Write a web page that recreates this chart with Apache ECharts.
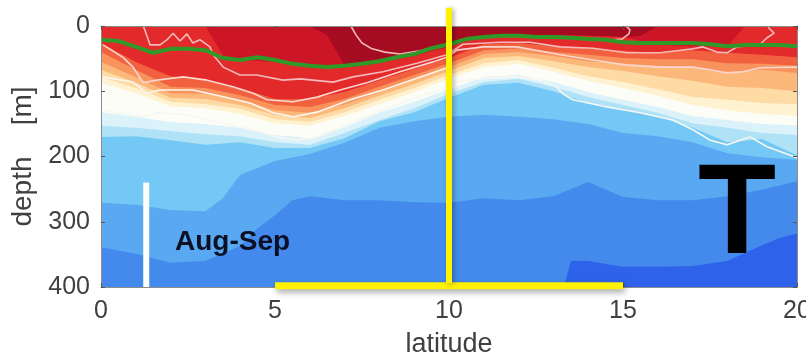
<!DOCTYPE html>
<html><head><meta charset="utf-8">
<script src="https://cdn.jsdelivr.net/npm/echarts@6/dist/echarts.min.js"></script>
<style>html,body{margin:0;padding:0;background:#fff}#c{width:806px;height:358px}</style>
</head><body><div id="c"></div>
<script>
// ---- axis ticks ----
const latTicks = [0, 5, 10, 15, 20];
const depthTicks = [0, 100, 200, 300, 400];

// ---- latitude grid for band boundaries (deg) ----
const lat = [0,1,2,3,4,5,6,7,8,9,10,11,12,13,14,15,16,17,18,19,20];

// ---- depth (m) of the top of each temperature band ----
const latVeryWarm   = [0,1,2,3,4,5,6,6.5,7,8,9,10,11,12,13,14,15,15.5,16,17,18,19,20];
const topVeryWarm   = [0,0,0,0,0,0,0,14,60,54,43,29,15,14,14,15,17,15,0,0,0,0,0];
const latWarm       = [0,1,2,3,3.5,4,5,6,7,8,9,10,11,12,13,14,15,16,17,18,18.5,19,20];
const topWarm       = [0,0,0,0,45,52,55,63,64,57,46,32,15,14,14,15,17,29,31,32,0,0,0];
const topOrangeRed  = [26,55,77,83,95,112,112,101,83,66,49,28,26,31,34,38,41,37,41,44,48];
const topSalmon     = [40,67,93,95,106,121,124,112,93,75,57,37,34,40,44,49,51,51,57,58,61];
const topOrange     = [55,78,103,104,113,129,133,120,101,83,63,43,40,46,54,58,61,64,70,67,72];
const topPaleOrange = [67,87,110,112,121,136,141,126,107,89,69,49,46,54,63,69,77,84,93,95,100];
const topCream      = [78,95,116,120,127,143,147,132,113,95,75,57,52,64,77,86,97,109,113,118,120];
const topWhite      = [87,103,123,126,135,149,153,138,120,101,81,63,58,70,84,95,107,121,129,135,138];
const topPaleCyan   = [132,139,147,150,156,167,172,155,133,116,97,78,75,86,101,113,124,138,144,150,152];
const topLightCyan  = [153,156,161,166,169,178,182,164,144,126,104,86,81,93,109,121,133,149,156,164,167];
const topSky        = [170,169,175,182,178,187,187,172,146,132,110,90,87,100,118,127,139,156,178,173,198];
const latBlue       = [0,1,2,3,3.5,4,5,6,7,8,9,10,11,12,13,14,15,16,17,18,19,20];
const topBlue       = [271,274,282,284,264,228,207,196,179,156,146,139,136,139,143,150,164,169,178,195,201,205];
const latMidBlue    = [0,1,2,3,4,4.5,5,5.5,6,7,8,9,10,11,12,13,14,15,16,17,18,19,20];
const topMidBlue    = [339,349,363,360,337,310,290,267,261,267,267,270,271,264,267,261,239,262,267,267,261,251,238];
const latDeepBlue   = [0,13.3,13.5,14,15,16,17,18,18.5,19,19.5,20];
const topDeepBlue   = [400,400,360,360,369,369,368,360,348,336,325,318];

// ---- mixed-layer depth (green line) ----
const greenLat = [0,0.5,1,1.5,2,2.5,3,3.5,4,4.5,5,5.5,6,6.5,7,7.5,8,8.5,9,9.5,10,10.5,11,11.5,12,12.5,13,13.5,14,14.5,15,15.5,16,16.5,17,17.5,18,18.5,19,19.5,20];
const greenDepth = [21,23,32,41,35,35,37,49,52,48,52,58,61,63,61,58,54,48,43,34,28,20,17,15,15,17,17,18,20,21,25,26,26,26,26,28,31,29,29,29,31];

// ---- isotherm contour lines ----
const c1Lat   = [1.21,1.26,1.41,1.70,1.90,2.07,2.27,2.47,2.64,2.84,3.13,3.22,3.51,3.99,4.48,5.23,5.72,6.67,7.24,8.10,9.08,9.94,10.40,11.47,12.33,13.19,14.14,15.11,16.06,17.01,17.30,17.70,17.99,18.28,18.94,19.14,19.34,19.17];
const c1Depth = [0,6,29,29,21,11,23,12,26,21,32,44,63,75,75,83,81,86,78,70,57,44,28,25,25,32,34,41,41,35,32,40,41,32,28,18,11,2];
const c1bLat   = [7.18,7.33,7.50,7.79,8.16,8.59,9.17,9.60];
const c1bDepth = [0,14,26,35,40,43,38,32];
const c1cLat   = [14.68,14.97,15.17,15.20,15.09];
const c1cDepth = [21,20,12,6,0];
const c2Lat   = [0.06,0.63,0.92,1.21,1.61,2.36,3.05,3.79,4.37,4.77,5.52,6.21,6.87,7.64,8.59,9.54,9.94,10.23,10.98,11.95,12.90,13.19,14.14,15.11,16.06,17.01,17.50,17.99,18.45,18.94,19.89,20];
const c2Depth = [29,48,63,87,83,78,83,93,103,113,116,109,98,87,70,55,48,37,32,32,41,44,52,60,63,63,67,72,70,64,63,63];
const c3Lat   = [0.06,0.92,1.32,1.70,2.64,3.33,4.28,4.94,5.52,6.21,7.16,8.10,9.08,9.94];
const c3Depth = [78,86,103,98,98,106,118,133,139,132,113,98,80,64];
const c4Lat   = [0.06,1.21,1.61,2.47,3.33,4.37,5.06,5.63,6.21,7.16,8.10,9.08,9.94,10.23,10.98,11.95,12.61,13.05,13.33,13.56,14.54,15.49,16.44,17.01,17.50,17.99,18.65,19.14,20];
const c4Depth = [129,139,133,136,147,159,170,175,170,149,129,109,95,86,80,78,83,92,106,113,124,133,144,159,175,182,170,185,202];

// ---- annotations ----
const barLat = [1.3, 1.3];
const barDepth = [240, 400];
const vLineLat = [10, 10];
const vLineDepth = [-28, 394];
const hLineLat = [5, 15];
const hLineDepth = [398, 398];
const labelSeason = 'Aug-Sep';
const labelVar = 'T';

// ---- styles ----
const bands = [
  [latVeryWarm, topVeryWarm,   '#cc1628'],
  [latWarm,     topWarm,       '#e32a2b'],
  [lat,         topOrangeRed,  '#f2613f'],
  [lat,         topSalmon,     '#f8935e'],
  [lat,         topOrange,     '#fcb77b'],
  [lat,         topPaleOrange, '#fedaa5'],
  [lat,         topCream,      '#fff2d0'],
  [lat,         topWhite,      '#fdfdf7'],
  [lat,         topPaleCyan,   '#dcf2fa'],
  [lat,         topLightCyan,  '#b0e2f7'],
  [lat,         topSky,        '#74c8f5'],
  [latBlue,     topBlue,       '#58a9f1'],
  [latMidBlue,  topMidBlue,    '#438aec'],
  [latDeepBlue, topDeepBlue,   '#2f62ea']
];
const FONT = "'Liberation Sans', Arial, Helvetica, sans-serif";
const pairs = (xs, ys) => xs.map((x, i) => [x, ys[i]]);

const series = [];
bands.forEach(([xs, arr, color]) => {
  series.push({
    type: 'line', data: pairs(xs, arr), symbol: 'none', silent: true,
    lineStyle: { width: 0, opacity: 0 },
    areaStyle: { color: color, opacity: 1, origin: 'end' },
    z: 2
  });
});
const contour = (xs, ys, color, w) => ({
  type: 'line', data: pairs(xs, ys), symbol: 'none', silent: true,
  lineStyle: { color: color, width: w }, z: 3
});
series.push(contour(c1Lat, c1Depth, '#f4b9b9', 1.6));
series.push(contour(c1bLat, c1bDepth, '#f4b9b9', 1.6));
series.push(contour(c1cLat, c1cDepth, '#f4b9b9', 1.6));
series.push(contour(c2Lat, c2Depth, '#f9d6d0', 1.6));
series.push(contour(c3Lat, c3Depth, '#fbf6ee', 1.6));
series.push(contour(c4Lat, c4Depth, '#f7f7f2', 1.6));
series.push({
  type: 'line', data: pairs(greenLat, greenDepth), symbol: 'none', silent: true,
  lineStyle: { color: '#2f9a28', width: 4 }, z: 4
});
series.push({
  type: 'line', data: pairs(barLat, barDepth), symbol: 'none', silent: true,
  lineStyle: { color: '#ffffff', width: 6, cap: 'butt' }, z: 5
});
series.push({
  type: 'line', data: pairs(hLineLat, hLineDepth), symbol: 'none', silent: true, clip: false,
  lineStyle: { color: '#fff200', width: 7, cap: 'butt', shadowColor: 'rgba(0,0,0,0.35)', shadowBlur: 6, shadowOffsetX: 2, shadowOffsetY: 3 },
  z: 20
});
series.push({
  type: 'line', data: pairs(vLineLat, vLineDepth), symbol: 'none', silent: true, clip: false,
  lineStyle: { color: '#fff200', width: 6, cap: 'butt', shadowColor: 'rgba(0,0,0,0.3)', shadowBlur: 5, shadowOffsetX: 2, shadowOffsetY: 1 },
  z: 21
});

const axisCommon = {
  axisLine: { show: true, onZero: false, lineStyle: { color: '#8c8c8c', width: 1 } },
  axisTick: { show: true, inside: true, length: 4, lineStyle: { color: '#555' } },
  splitLine: { show: false },
  z: 10
};

const chart = echarts.init(document.getElementById('c'), null, { renderer: 'canvas' });
chart.setOption({
  animation: false,
  backgroundColor: '#ffffff',
  grid: { left: 101, right: 9, top: 26, bottom: 71, show: true, backgroundColor: '#a50c22', borderWidth: 0,
          containLabel: false, outerBoundsMode: 'none' },
  xAxis: [
    Object.assign({}, axisCommon, {
      type: 'value', min: latTicks[0], max: latTicks[latTicks.length - 1], interval: latTicks[1] - latTicks[0],
      position: 'bottom', name: 'latitude', nameLocation: 'middle', nameGap: 44,
      nameTextStyle: { fontSize: 27, color: '#404040', fontFamily: FONT },
      axisLabel: { fontSize: 25, color: '#404040', margin: 12, fontFamily: FONT }
    }),
    Object.assign({}, axisCommon, {
      type: 'value', min: latTicks[0], max: latTicks[latTicks.length - 1], interval: latTicks[1] - latTicks[0],
      position: 'top', axisLabel: { show: false }
    })
  ],
  yAxis: [
    Object.assign({}, axisCommon, {
      type: 'value', inverse: true, min: depthTicks[0], max: depthTicks[depthTicks.length - 1], interval: depthTicks[1] - depthTicks[0],
      position: 'left', name: 'depth    [m]', nameLocation: 'middle', nameRotate: 90, nameGap: 49,
      nameTextStyle: { fontSize: 28, color: '#404040', fontFamily: FONT },
      axisLabel: { fontSize: 25, color: '#404040', margin: 11, fontFamily: FONT }
    }),
    Object.assign({}, axisCommon, {
      type: 'value', inverse: true, min: depthTicks[0], max: depthTicks[depthTicks.length - 1], interval: depthTicks[1] - depthTicks[0],
      position: 'right', axisLabel: { show: false }
    })
  ],
  series: series,
  graphic: [
    { type: 'text', x: 175, y: 242, z: 30, silent: true,
      style: { text: labelSeason, fontSize: 28, fontWeight: 'bold', fontFamily: FONT, fill: '#0c1024', align: 'left', verticalAlign: 'middle' } },
    { type: 'text', x: 737, y: 218, z: 30, silent: true,
      style: { text: labelVar, fontSize: 128, fontWeight: 'bold', fontFamily: FONT, fill: '#000000', align: 'center', verticalAlign: 'middle' } }
  ]
});
</script>
</body></html>
